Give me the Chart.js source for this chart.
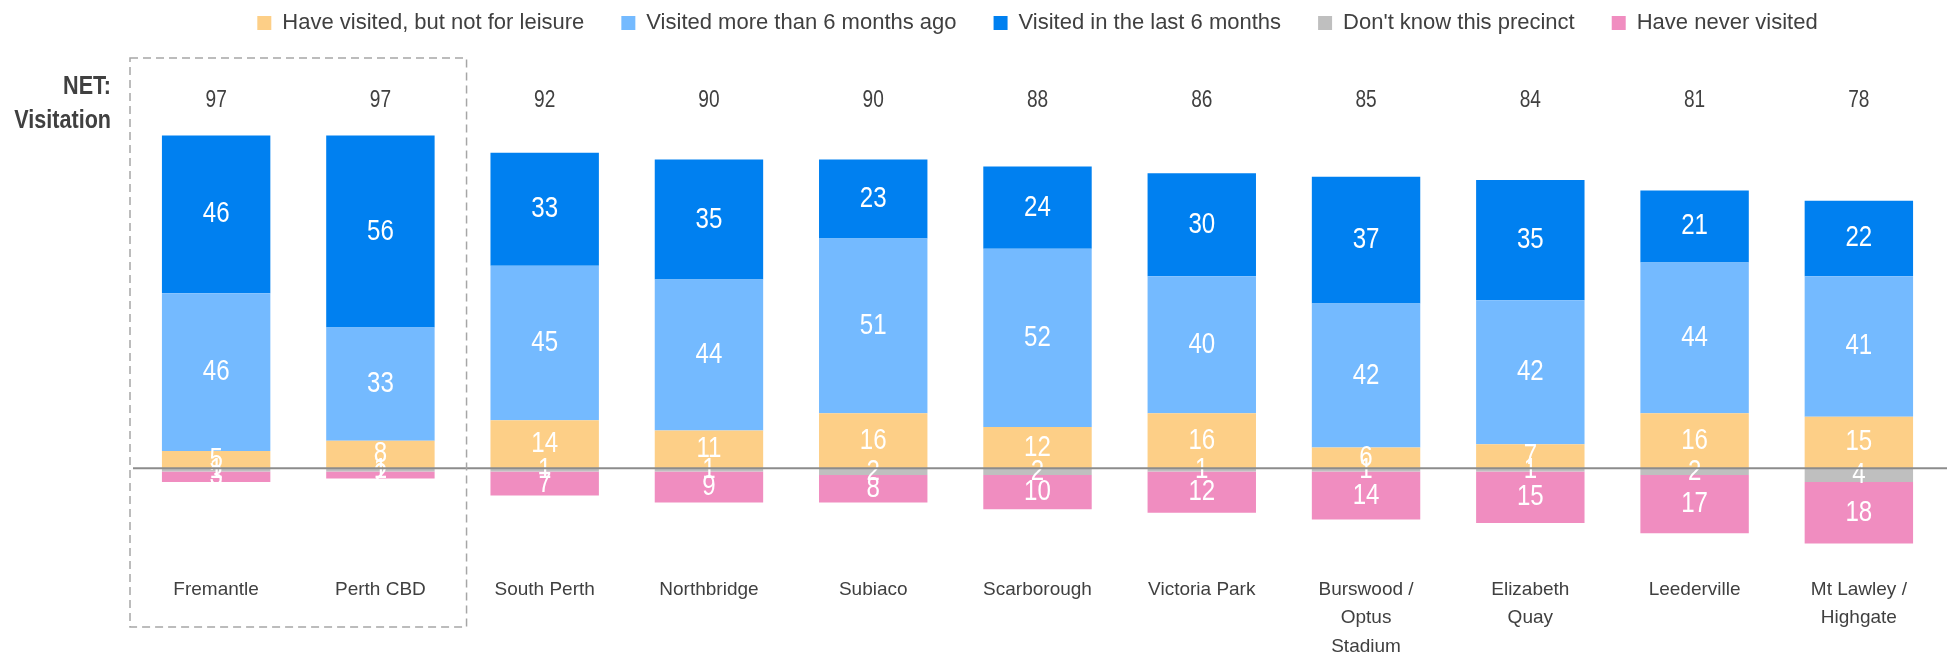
<!DOCTYPE html>
<html>
<head>
<meta charset="utf-8">
<script src="https://cdn.jsdelivr.net/npm/chart.js@4"></script>
<style>
  html, body { margin: 0; padding: 0; background: #fff; }
  #wrap { width: 1947px; height: 656px; }
</style>
</head>
<body>
<div id="wrap"><canvas id="chart" width="1947" height="656"></canvas></div>
<script>
// precincts (x categories)
const precincts = [
    'Fremantle', 'Perth CBD', 'South Perth', 'Northbridge', 'Subiaco', 'Scarborough',
    'Victoria Park', ['Burswood /', 'Optus', 'Stadium'], ['Elizabeth', 'Quay'], 'Leederville', ['Mt Lawley /', 'Highgate']
];

// series values (%), negatives drawn below the line
const notLeisure   = [5, 8, 14, 11, 16, 12, 16, 6, 7, 16, 15];
const over6Months  = [46, 33, 45, 44, 51, 52, 40, 42, 42, 44, 41];
const last6Months  = [46, 56, 33, 35, 23, 24, 30, 37, 35, 21, 22];
const dontKnow     = [1, 1, 1, 1, 2, 2, 1, 1, 1, 2, 4];
const neverVisited = [3, 2, 7, 9, 8, 10, 12, 14, 15, 17, 18];

const FONT = "'Liberation Sans', Arial, sans-serif";
const TEXT = '#404040';
const SQUEEZE = 0.83; // the original text is a narrow face

// draw text squeezed horizontally about its anchor point
function narrowText(ctx, txt, x, y) {
    ctx.save();
    ctx.translate(x, y);
    ctx.scale(SQUEEZE, 1);
    ctx.fillText(txt, 0, 0);
    ctx.restore();
}

// white value labels in the middle of each segment
const segmentLabels = {
    id: 'segmentLabels',
    afterDatasetsDraw(chart) {
        const ctx = chart.ctx;
        ctx.save();
        ctx.fillStyle = '#fff';
        ctx.font = `29px ${FONT}`;
        ctx.textAlign = 'center';
        ctx.textBaseline = 'middle';
        chart.data.datasets.forEach((ds, i) => {
            chart.getDatasetMeta(i).data.forEach((bar, j) => {
                const v = Math.abs(ds.data[j]);
                if (!v) return;
                narrowText(ctx, v, bar.x, (bar.y + bar.base) / 2);
            });
        });
        ctx.restore();
    }
};

// nudge the legend up towards the top edge
const legendUp = {
    id: 'legendUp',
    afterLayout(chart) {
        chart.legend.top -= 25;
        chart.legend.bottom -= 25;
    }
};

// zero line, NET totals, dashed box round the first two precincts
const extras = {
    id: 'extras',
    afterDatasetsDraw(chart) {
        const ctx = chart.ctx;
        const x = chart.scales.x, y = chart.scales.y;
        const zero = y.getPixelForValue(0);
        ctx.save();

        ctx.strokeStyle = '#8c8c8c';
        ctx.lineWidth = 2;
        ctx.beginPath();
        ctx.moveTo(x.left - 1, zero);
        ctx.lineTo(chart.width, zero);
        ctx.stroke();

        ctx.fillStyle = TEXT;
        ctx.font = `23px ${FONT}`;
        ctx.textAlign = 'center';
        ctx.textBaseline = 'middle';
        precincts.forEach((p, j) => {
            const net = notLeisure[j] + over6Months[j] + last6Months[j];
            narrowText(ctx, net, x.getPixelForValue(j), zero - 368);
        });

        ctx.font = `bold 26px ${FONT}`;
        ctx.textAlign = 'right';
        narrowText(ctx, 'NET:', 111, 87);
        narrowText(ctx, 'Visitation', 111, 121);

        ctx.strokeStyle = '#a6a6a6';
        ctx.lineWidth = 1.5;
        ctx.setLineDash([8, 5]);
        const bx0 = x.left - 4;
        const bx1 = (x.getPixelForValue(1) + x.getPixelForValue(2)) / 2 + 4;
        ctx.strokeRect(bx0, 58, bx1 - bx0, 569);
        ctx.restore();
    }
};

new Chart(document.getElementById('chart'), {
    type: 'bar',
    data: {
        labels: precincts,
        datasets: [
            { label: 'Have visited, but not for leisure', data: notLeisure, backgroundColor: '#fdcf87' },
            { label: 'Visited more than 6 months ago', data: over6Months, backgroundColor: '#74baff' },
            { label: 'Visited in the last 6 months', data: last6Months, backgroundColor: '#0080f0' },
            { label: "Don't know this precinct", data: dontKnow.map(v => -v), backgroundColor: '#bfbfbf' },
            { label: 'Have never visited', data: neverVisited.map(v => -v), backgroundColor: '#f08dc0' }
        ]
    },
    options: {
        responsive: false,
        animation: false,
        layout: { padding: { left: 134, right: 6, top: 0, bottom: -9 } },
        datasets: { bar: { categoryPercentage: 1, barPercentage: 0.66 } },
        scales: {
            x: {
                stacked: true,
                grid: { display: false },
                border: { display: false },
                ticks: {
                    color: TEXT,
                    font: { family: FONT, size: 19, lineHeight: 1.5 },
                    padding: 4, maxRotation: 0, autoSkip: false
                }
            },
            y: {
                stacked: true,
                display: false,
                min: -27.8,
                max: 116.4
            }
        },
        plugins: {
            legend: {
                position: 'top',
                fullSize: false,
                labels: {
                    color: TEXT,
                    font: { family: FONT, size: 22 },
                    boxWidth: 14,
                    boxHeight: 14,
                    padding: 37
                }
            },
            tooltip: { enabled: false }
        }
    },
    plugins: [segmentLabels, legendUp, extras]
});
</script>
</body>
</html>
